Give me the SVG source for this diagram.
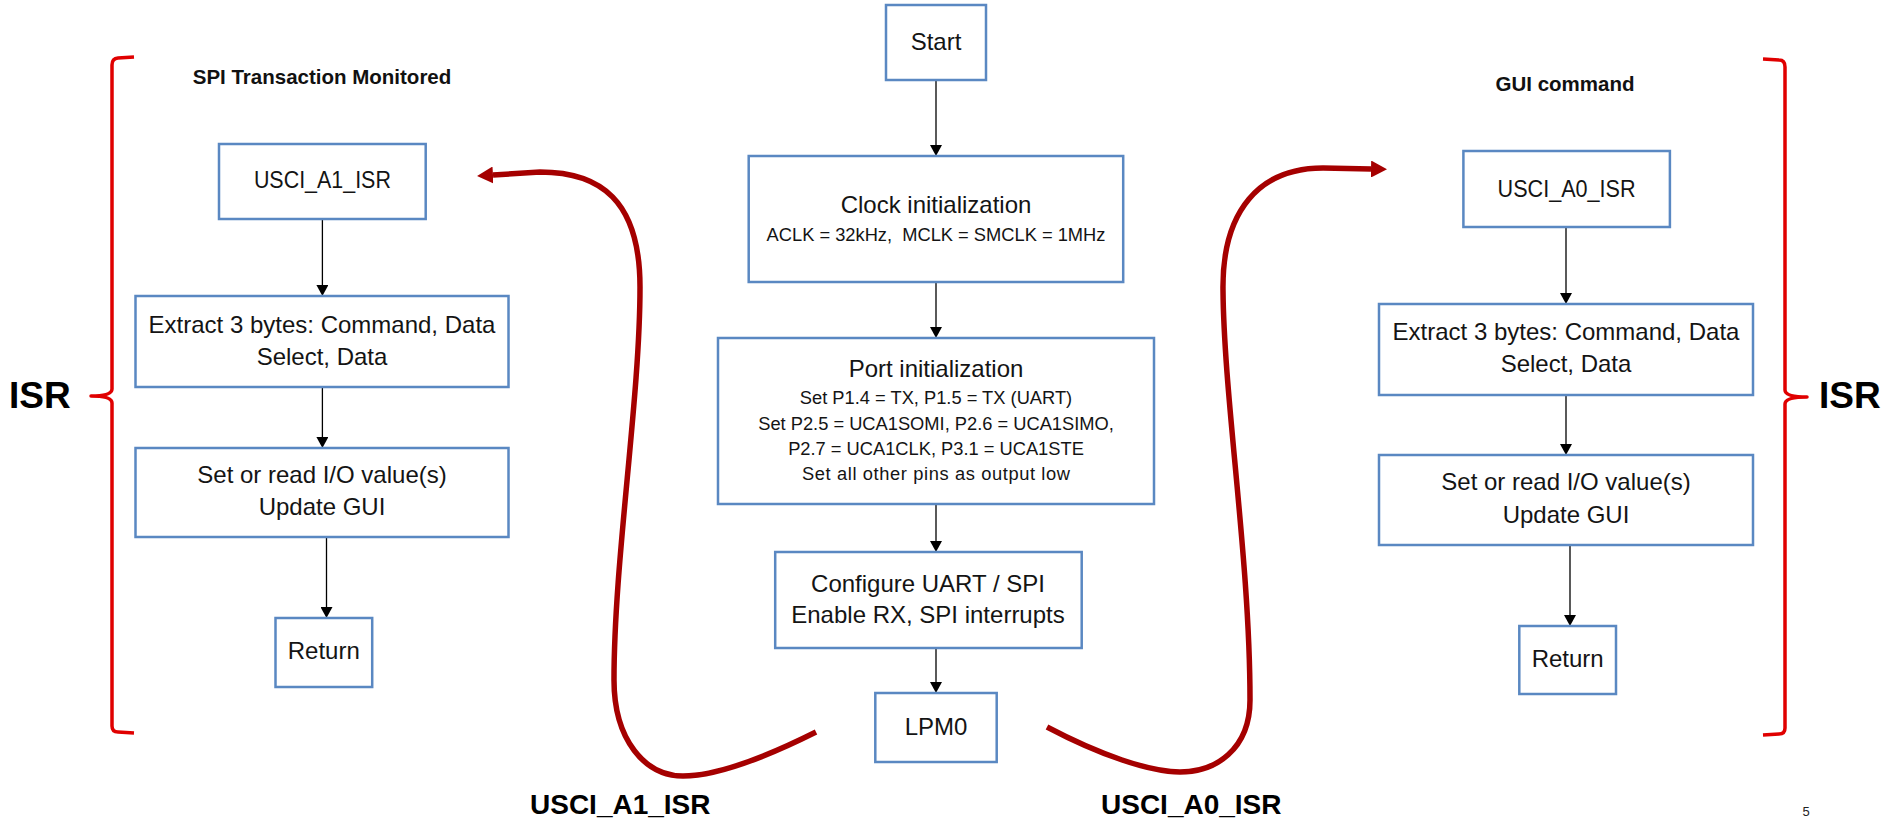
<svg xmlns="http://www.w3.org/2000/svg" width="1885" height="820" viewBox="0 0 1885 820">
<style>
  .box { fill: #ffffff; stroke: #5a88c2; stroke-width: 2.5; }
  .t { font-family: "Liberation Sans", Arial, sans-serif; font-size: 24px; fill: #141414; text-anchor: middle; }
  .s { font-family: "Liberation Sans", Arial, sans-serif; font-size: 18.3px; fill: #141414; text-anchor: middle; }
  .title { font-family: "Liberation Sans", Arial, sans-serif; font-size: 20.5px; font-weight: bold; fill: #111; text-anchor: middle; }
  .big { font-family: "Liberation Sans", Arial, sans-serif; font-weight: bold; fill: #000; }
  .flow { stroke: #000; stroke-width: 1.3; fill: none; }
  .irq { stroke: #a50000; stroke-width: 5.5; fill: none; stroke-linecap: butt; }
  .brace { stroke: #e00000; stroke-width: 3.5; fill: none; stroke-linejoin: round; }
</style>
<defs>
  <marker id="ah" markerUnits="userSpaceOnUse" markerWidth="12" markerHeight="12" viewBox="0 0 11 12" refX="0" refY="6" orient="auto">
    <path d="M0,0 L11,6 L0,12 z" fill="#000"/>
  </marker>
  <marker id="rh" markerUnits="userSpaceOnUse" markerWidth="16" markerHeight="17" viewBox="0 0 16 17" refX="0" refY="8.5" orient="auto">
    <path d="M0,0 L16,8.5 L0,17 z" fill="#a50000"/>
  </marker>
</defs>

<!-- brackets and labels -->
<g id="left-brace">
  <path class="brace" d="M134,57 L118,58 Q112,58.5 112,65 L112,389 Q112,396 91,396 Q112,396 112,403 L112,726 Q112,732 118,732 L134,733"/>
  <text class="big" x="9" y="408" font-size="37">ISR</text>
</g>
<g id="right-brace">
  <path class="brace" d="M1763,59 L1779,60 Q1785,60 1785,67 L1785,390 Q1785,397 1807,397 Q1785,397 1785,404 L1785,728 Q1785,734 1779,734 L1763,735"/>
  <text class="big" x="1819" y="408" font-size="37">ISR</text>
</g>
<text class="title" x="322" y="84">SPI Transaction Monitored</text>
<text class="title" x="1565" y="91">GUI command</text>
<text class="big" x="530" y="814" font-size="28">USCI_A1_ISR</text>
<text class="big" x="1101" y="814" font-size="28">USCI_A0_ISR</text>
<text x="1806" y="816" font-family="Liberation Sans, Arial, sans-serif" font-size="13" fill="#222" text-anchor="middle">5</text>

<!-- connectors -->
<g id="connectors">
  <line class="flow" x1="322.4" y1="219" x2="322.4" y2="285" marker-end="url(#ah)"/>
  <line class="flow" x1="322.4" y1="387" x2="322.4" y2="437" marker-end="url(#ah)"/>
  <line class="flow" x1="326.5" y1="537" x2="326.5" y2="607" marker-end="url(#ah)"/>
  <line class="flow" x1="936" y1="80" x2="936" y2="145" marker-end="url(#ah)"/>
  <line class="flow" x1="936" y1="282" x2="936" y2="327" marker-end="url(#ah)"/>
  <line class="flow" x1="936" y1="504" x2="936" y2="541" marker-end="url(#ah)"/>
  <line class="flow" x1="936" y1="648" x2="936" y2="682" marker-end="url(#ah)"/>
  <line class="flow" x1="1566" y1="227" x2="1566" y2="293" marker-end="url(#ah)"/>
  <line class="flow" x1="1566" y1="395" x2="1566" y2="444" marker-end="url(#ah)"/>
  <line class="flow" x1="1570" y1="545" x2="1570" y2="615" marker-end="url(#ah)"/>
  <path class="irq" d="M816,732 C770,755 720,776 683,776 C645,776 614,740 614,680 C614,560 640,400 640,287 C640,200 600,172 540,172 L493,175" marker-end="url(#rh)"/>
  <path class="irq" d="M1047,727 C1100,755 1150,772 1180,772 C1215,772 1250,750 1250,700 C1250,560 1224,400 1223,290 C1222,210 1260,168 1323,168 L1371,169" marker-end="url(#rh)"/>
</g>

<!-- left column -->
<g id="usci-a1-isr">
  <rect class="box" x="219" y="144" width="206.7" height="75"/>
  <text class="t" x="322.4" y="188.3" font-size="22" textLength="137" lengthAdjust="spacingAndGlyphs">USCI_A1_ISR</text>
</g>
<g id="extract-left">
  <rect class="box" x="135.5" y="296" width="373" height="91"/>
  <text class="t" x="322" y="333.3">Extract 3 bytes: Command, Data</text>
  <text class="t" x="322" y="365">Select, Data</text>
</g>
<g id="setio-left">
  <rect class="box" x="135.5" y="448" width="373" height="89"/>
  <text class="t" x="322" y="483.3">Set or read I/O value(s)</text>
  <text class="t" x="322" y="515">Update GUI</text>
</g>
<g id="return-left">
  <rect class="box" x="275.5" y="618" width="96.7" height="69"/>
  <text class="t" x="323.8" y="659.3">Return</text>
</g>

<!-- center column -->
<g id="start">
  <rect class="box" x="886" y="5" width="100" height="75"/>
  <text class="t" x="936" y="50">Start</text>
</g>
<g id="clock-init">
  <rect class="box" x="748.7" y="156" width="374.5" height="126"/>
  <text class="t" x="936" y="213.3">Clock initialization</text>
  <text class="s" x="936" y="241" xml:space="preserve">ACLK = 32kHz,  MCLK = SMCLK = 1MHz</text>
</g>
<g id="port-init">
  <rect class="box" x="718" y="338" width="436" height="166"/>
  <text class="t" x="936" y="376.7" font-size="25">Port initialization</text>
  <text class="s" x="936" y="404">Set P1.4 = TX, P1.5 = TX (UART)</text>
  <text class="s" x="936" y="430">Set P2.5 = UCA1SOMI, P2.6 = UCA1SIMO,</text>
  <text class="s" x="936" y="455" font-size="17.6">P2.7 = UCA1CLK, P3.1 = UCA1STE</text>
  <text class="s" x="936" y="480" textLength="268" lengthAdjust="spacing">Set all other pins as output low</text>
</g>
<g id="configure">
  <rect class="box" x="775.2" y="552" width="306.5" height="96"/>
  <text class="t" x="928" y="591.7" font-size="23">Configure UART / SPI</text>
  <text class="t" x="928" y="623.3" font-size="23">Enable RX, SPI interrupts</text>
</g>
<g id="lpm0">
  <rect class="box" x="875.3" y="693" width="121.4" height="69"/>
  <text class="t" x="936" y="735">LPM0</text>
</g>

<!-- right column -->
<g id="usci-a0-isr">
  <rect class="box" x="1463.4" y="151" width="206.5" height="76"/>
  <text class="t" x="1566.6" y="196.7" font-size="22" textLength="138" lengthAdjust="spacingAndGlyphs">USCI_A0_ISR</text>
</g>
<g id="extract-right">
  <rect class="box" x="1379" y="304" width="374" height="91"/>
  <text class="t" x="1566" y="340">Extract 3 bytes: Command, Data</text>
  <text class="t" x="1566" y="371.7">Select, Data</text>
</g>
<g id="setio-right">
  <rect class="box" x="1379" y="455" width="374" height="90"/>
  <text class="t" x="1566" y="490">Set or read I/O value(s)</text>
  <text class="t" x="1566" y="523.3">Update GUI</text>
</g>
<g id="return-right">
  <rect class="box" x="1519.3" y="626" width="96.7" height="68"/>
  <text class="t" x="1567.7" y="667">Return</text>
</g>
</svg>
